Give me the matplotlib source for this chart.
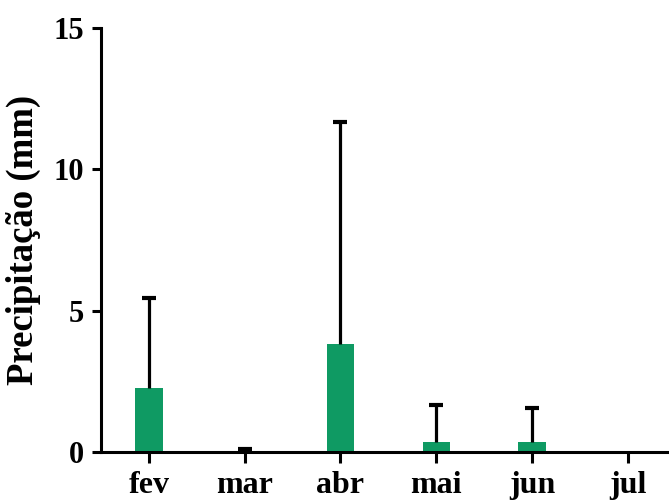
import matplotlib
matplotlib.use("Agg")
import matplotlib.pyplot as plt
import numpy as np

months = ["fev", "mar", "abr", "mai", "jun", "jul"]
values = [2.26, 0.05, 3.82, 0.35, 0.35, 0.0]
errors = [3.2, 0.07, 7.85, 1.3, 1.2, 0.0]

plt.rcParams['font.family'] = ['Liberation Serif', 'DejaVu Serif']
plt.rcParams['font.weight'] = 'bold'

fig = plt.figure(figsize=(6.69, 5.01), dpi=100)
ax = fig.add_axes([0.151, 0.0978, 0.849, 0.8462])
x = np.arange(len(months))
v = np.array(values)
e = np.array(errors)
ax.bar(x, v, width=0.285, color="#0f9a63", zorder=2)
ax.errorbar(x, v, yerr=[np.zeros(len(e)), e], fmt='none',
            ecolor='black', elinewidth=2.3, capsize=0, zorder=3)
mask = e > 0
ax.plot(x[mask], (v + e)[mask], linestyle='none', marker='_', markersize=10,
        markeredgewidth=3, color='black', zorder=3)
ax.set_xlim(-0.5, 5.43)
ax.set_ylim(0, 15)
ax.set_yticks([0, 5, 10, 15])
ax.set_xticks(x)
ax.set_xticklabels(months)
for s in ['top', 'right']:
    ax.spines[s].set_visible(False)
for s in ['left', 'bottom']:
    ax.spines[s].set_linewidth(2.2)
ax.tick_params(axis='y', length=6.5, width=2.2, labelsize=22, pad=6)
ax.tick_params(axis='x', length=8, width=2.2, labelsize=23, pad=6)
for lab in ax.get_xticklabels() + ax.get_yticklabels():
    lab.set_fontweight('bold')
ax.set_ylabel("Precipitação (mm)", fontsize=26.5, fontweight='bold')
ax.yaxis.set_label_coords(-0.106, 0.5)
fig.savefig("out.png", dpi=100)
